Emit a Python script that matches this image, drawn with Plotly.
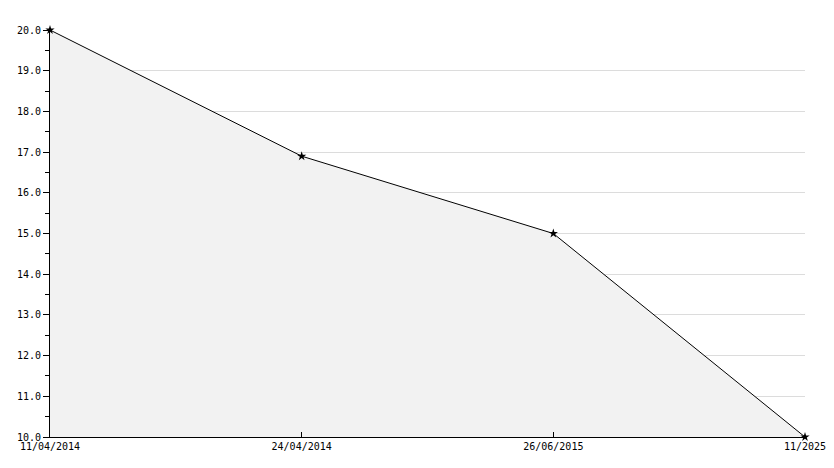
import plotly.graph_objects as go

dates = ["11/04/2014", "24/04/2014", "26/06/2015", "11/2025"]
values = [20.0, 16.9, 15.0, 10.0]
y_ticks = [10.0, 11.0, 12.0, 13.0, 14.0, 15.0, 16.0, 17.0, 18.0, 19.0, 20.0]

fig = go.Figure()
fig.add_trace(go.Scatter(
    x=dates, y=values, mode="lines+markers",
    line=dict(color="black", width=1),
    marker=dict(color="black", size=7, symbol="star"),
    fill="tozeroy", fillcolor="#f2f2f2",
    cliponaxis=False, hoverinfo="x+y",
))

fig.update_layout(
    width=834, height=468,
    margin=dict(l=50, r=29, t=30, b=31, autoexpand=False),
    paper_bgcolor="white", plot_bgcolor="white",
    font=dict(family="DejaVu Sans Mono", size=10, color="black"),
    showlegend=False,
)
fig.update_xaxes(
    type="category", range=[0, 3], automargin=False,
    showgrid=False, showline=True, linecolor="black", linewidth=1,
    ticks="inside", ticklen=5, tickcolor="black",
    tickfont=dict(family="DejaVu Sans Mono", size=10, color="black"),
    zeroline=False,
)
fig.update_yaxes(
    range=[10, 20], automargin=False,
    tickvals=y_ticks, ticktext=[f"{v:.1f}" for v in y_ticks],
    showgrid=True, gridcolor="#dcdcdc", gridwidth=1,
    showline=True, linecolor="black", linewidth=1,
    ticks="outside", ticklen=6, tickcolor="black",
    minor=dict(dtick=0.5, tick0=10, ticks="outside", ticklen=4, tickcolor="black", showgrid=False),
    tickfont=dict(family="DejaVu Sans Mono", size=10, color="black"),
    zeroline=False,
)

fig.write_html(
    "out.html",
    config={"displayModeBar": False},
    post_script="document.body.style.margin='0';document.body.style.padding='0';",
)
